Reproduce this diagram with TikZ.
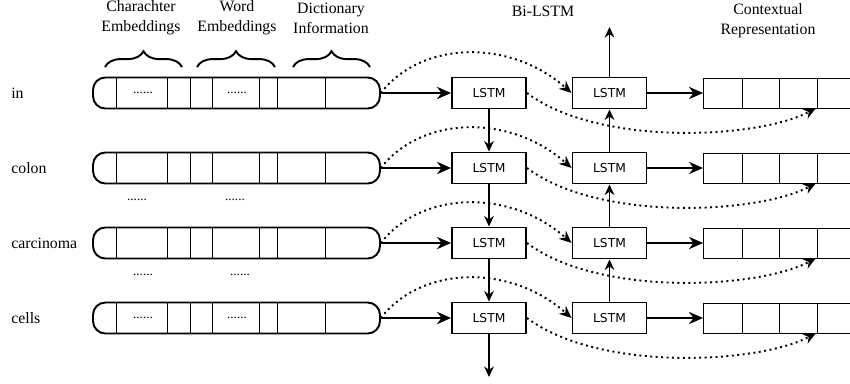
\documentclass[tikz,border=0pt]{standalone}
\usepackage{fontspec}
\setmainfont{Liberation Serif}
\newfontfamily\lstmfont{DejaVu Sans}
\usetikzlibrary{arrows.meta,decorations.pathreplacing}

\begin{document}
\begin{tikzpicture}[x=0.02cm,y=0.02cm,
  font=\fontsize{9}{11.4}\selectfont,
  inbar/.style={draw,line width=1.1pt,rounded corners=7pt,inner sep=0pt,minimum width=5.74cm,minimum height=0.62cm},
  lstm/.style={draw,line width=1.1pt,inner sep=0pt,minimum width=1.48cm,minimum height=0.62cm,font=\lstmfont\fontsize{7}{8}\selectfont},
  ctx/.style={draw,line width=0.5pt,anchor=west,inner sep=0pt,minimum width=3.4cm,minimum height=0.6cm},
  thickarr/.style={line width=1.1pt,-{Stealth[length=8pt,width=7pt]}},
  thinarr/.style={line width=0.6pt,-{Stealth[length=6pt,width=5.5pt]}},
  skip/.style={dotted,line width=1.1pt,-{Stealth[length=7pt,width=6pt]}},
  dotsfill/.style={font=\fontsize{7.5}{7.5}\selectfont,inner sep=0pt},
  bracket/.style={line width=1.1pt,decorate,decoration={brace,amplitude=9pt}}
]
\useasboundingbox (0,0) rectangle (850,-383);

\node[align=center] (tchar) at (141,-18) {Charachter\\Embeddings};
\node[align=center] (tword) at (237,-18) {Word\\Embeddings};
\node[align=center] (tdict) at (331,-18) {Dictionary\\Information};
\node (tbi) at (543,-11) {Bi-LSTM};
\node[align=center] (tctx) at (768,-21) {Contextual\\Representation};

\draw[bracket] (105,-67) -- (182,-67);
\draw[bracket] (197,-67) -- (275,-67);
\draw[bracket] (293,-67) -- (370,-67);

\foreach \w/\y [count=\n] in {in/-93,colon/-168,carcinoma/-243,cells/-318}{
  \node[anchor=west,inner sep=0pt] (w\n) at (11,\y) {\w};
  \node[inbar] (bar\n) at (236.5,\y) {};
  \foreach \x in {116,167,190,212,259,277,325}
    \draw[line width=0.5pt] (\x,\y+15.5) -- (\x,\y-15.5);
  \node[lstm] (f\n) at (489,\y) {LSTM};
  \node[lstm] (b\n) at (609.5,\y) {LSTM};
  \node[ctx] (c\n) at (703,\y) {};
  \foreach \x in {742,779,817}
    \draw[line width=0.5pt] (\x,\y+15) -- (\x,\y-15);
  \coordinate (t\n) at (816,\y-15);
  \draw[thickarr] (bar\n) -- (f\n);
  \draw[thickarr] (b\n) -- (c\n);
  \draw[skip] (bar\n.east) .. controls +(40,52) and +(-62,55) .. (b\n.west);
  \draw[skip] (f\n.east) .. controls +(74,-55) and +(-55,-30) .. (t\n);
}

\node[dotsfill] (d1) at (143,-93) {......};
\node[dotsfill] (d2) at (237,-93) {......};
\node[dotsfill] (d3) at (137,-200) {......};
\node[dotsfill] (d4) at (235,-200) {......};
\node[dotsfill] (d5) at (143,-275) {......};
\node[dotsfill] (d6) at (240,-275) {......};
\node[dotsfill] (d7) at (143,-318) {......};
\node[dotsfill] (d8) at (237,-318) {......};

\foreach \n/\m in {1/2,2/3,3/4}{
  \draw[thinarr] (f\n) -- (f\m);
  \draw[thinarr] (b\m) -- (b\n);
}
\coordinate (fend) at (489,-377);
\coordinate (bend) at (609.5,-27);
\draw[thinarr] (f4) -- (fend);
\draw[thinarr] (b1) -- (bend);
\end{tikzpicture}
\end{document}
